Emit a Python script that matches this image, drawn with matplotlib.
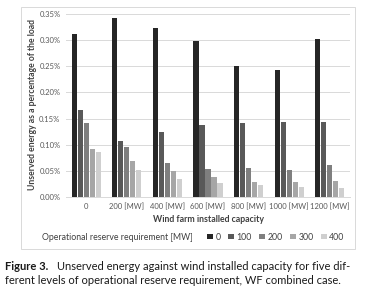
import numpy as np
import matplotlib
matplotlib.use("Agg")
import matplotlib.pyplot as plt
from matplotlib.patches import Rectangle
from matplotlib.ticker import FuncFormatter

plt.rcParams['font.family'] = ['Lato', 'DejaVu Sans']

# wind farm installed capacity (x groups)
capacities = ['0', '200 [MW]', '400 [MW]', '600 [MW]', '800 [MW]', '1000 [MW]', '1200 [MW]']
# operational reserve requirement [MW] (series)
reserves = ['0', '100', '200', '300', '400']
# unserved energy, % of load
res_0 = [0.311, 0.342, 0.323, 0.298, 0.251, 0.243, 0.303]
res_100 = [0.166, 0.108, 0.124, 0.137, 0.141, 0.143, 0.144]
res_200 = [0.141, 0.095, 0.065, 0.053, 0.055, 0.052, 0.061]
res_300 = [0.092, 0.068, 0.050, 0.038, 0.029, 0.028, 0.030]
res_400 = [0.086, 0.051, 0.034, 0.027, 0.022, 0.019, 0.017]
series = [res_0, res_100, res_200, res_300, res_400]
colors = ['#262626', '#595959', '#7f7f7f', '#a6a6a6', '#cfcfcf']

fig = plt.figure(figsize=(3.73, 3.03), dpi=100)
ax = fig.add_axes([66/373, 1 - 197/303, 284/373, 183/303])

x = np.arange(len(capacities))
pitch = 0.148
width = 0.125
for i, vals in enumerate(series):
    ax.bar(x + (i - 2) * pitch, vals, width, color=colors[i], label=reserves[i], zorder=2)

ax.set_xlim(-0.5, len(capacities) - 0.5)
ax.set_ylim(0, 0.35)
ax.set_yticks(np.arange(0, 0.351, 0.05))
ax.yaxis.set_major_formatter(FuncFormatter(lambda v, p: f'{v:.2f}%'))
ax.set_xticks(x)
ax.set_xticklabels(capacities)
ax.tick_params(length=0, labelsize=5.5, colors='#595959', pad=4)
ax.grid(axis='y', color='#d9d9d9', linewidth=0.7, zorder=0)
for s in ['top', 'right', 'left']:
    ax.spines[s].set_visible(False)
ax.spines['bottom'].set_color('#d9d9d9')
ax.spines['bottom'].set_linewidth(0.7)

fig.text(33/373, 1 - 105/303, 'Unserved energy as a percentage of the load', rotation=90,
         ha='center', va='center', fontsize=6.2, fontweight='bold', color='#404040')
fig.text(208/373, 1 - 219/303, 'Wind farm installed capacity', ha='center', va='center',
         fontsize=6.3, fontweight='bold', color='#404040')

fig.text(42/373, 1 - 237/303, 'Operational reserve requirement [MW]', ha='left', va='center',
         fontsize=6.3, color='#404040')
fig.legend(loc='center left', bbox_to_anchor=(203/373, 1 - 237/303), ncol=5, frameon=False,
           fontsize=6.3, handlelength=0.6, handleheight=0.6, handletextpad=0.3,
           columnspacing=0.9, borderpad=0, labelcolor='#404040')

# chart border
fig.patches.append(Rectangle((21/373, 1 - 249/303), 334/373, 242/303, transform=fig.transFigure,
                             fill=False, edgecolor='#d9d9d9', linewidth=0.7))

# caption
cap = fig.text(5/373, 1 - 267/303, 'Figure 3.', ha='left', va='center',
               fontsize=8, fontweight='bold', color='#1a1a1a')
fig.canvas.draw()
bb = cap.get_window_extent().transformed(fig.transFigure.inverted())
fig.text(bb.x1 + 9/373, 1 - 267/303,
         'Unserved energy against wind installed capacity for five dif-',
         ha='left', va='center', fontsize=8, color='#1a1a1a')
fig.text(5/373, 1 - 281/303, 'ferent levels of operational reserve requirement, WF combined case.',
         ha='left', va='center', fontsize=8, color='#1a1a1a')

fig.savefig('out.png', dpi=100)
